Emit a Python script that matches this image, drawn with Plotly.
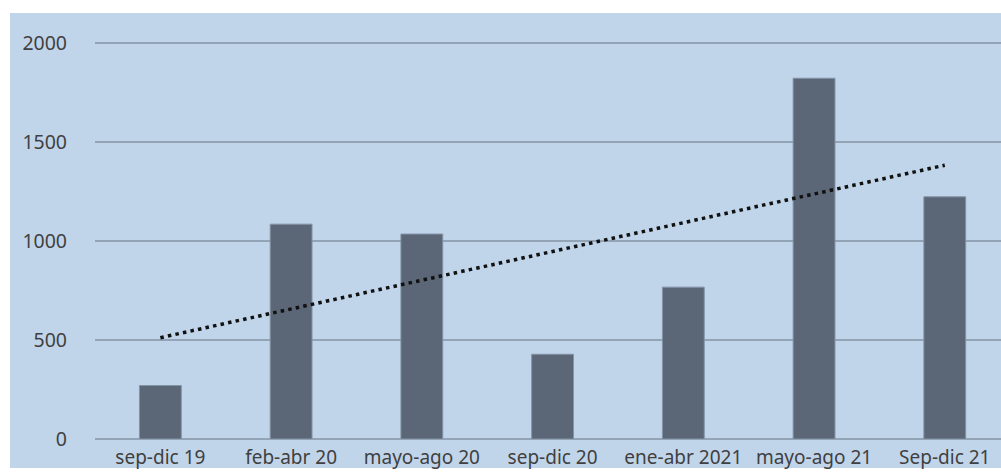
import numpy as np
import plotly.graph_objects as go

# Cuatrimestres and counts per period
periodos = ["sep-dic 19", "feb-abr 20", "mayo-ago 20", "sep-dic 20",
            "ene-abr 2021", "mayo-ago 21", "Sep-dic 21"]
valores = [270, 1085, 1035, 428, 767, 1822, 1223]
y_ticks = [0, 500, 1000, 1500, 2000]

# Linear trend fitted over the period index
idx = np.arange(1, len(valores) + 1)
pend, inter = np.polyfit(idx, valores, 1)
tendencia = pend * idx + inter

BG = "#C0D5EA"
BAR = "#5B6676"
GRID = "#93A4B7"
TXT = "#404040"
FONT = "Noto Sans"

W, H = 1001, 475
L, R, T, B = 95, 0, 41, 36
Y_MAX = 2010  # a little headroom so the 2000 gridline is drawn

fig = go.Figure()
fig.add_trace(go.Bar(
    x=periodos, y=valores, width=0.32,
    marker=dict(color=BAR, line=dict(color="#8493A6", width=1)),
    showlegend=False, hoverinfo="x+y",
))
fig.add_trace(go.Scatter(
    x=periodos, y=tendencia, mode="lines",
    line=dict(color="#111111", width=3.5, dash="3.5px,4.2px"),
    showlegend=False, hoverinfo="skip",
))

pw = W - L - R
ph = H - T - B
fig.add_shape(
    type="rect", xref="paper", yref="paper", layer="below",
    x0=(10 - L) / pw, x1=1.0,
    y0=-(468 - (H - B)) / ph, y1=((H - B) - 13) / ph,
    fillcolor=BG, line=dict(width=0),
)

fig.update_layout(
    width=W, height=H,
    margin=dict(l=L, r=R, t=T, b=B, pad=0),
    paper_bgcolor="white",
    plot_bgcolor="rgba(0,0,0,0)",
    font=dict(family=FONT, size=19, color=TXT),
    bargap=0.68,
    xaxis=dict(
        range=[-0.5, 6.43], showgrid=False, zeroline=False,
        showline=False, ticks="", tickfont=dict(size=19, color=TXT),
        ticklabelstandoff=5,
    ),
    yaxis=dict(
        range=[0, Y_MAX], tickvals=y_ticks, showgrid=True,
        gridcolor=GRID, gridwidth=1.5, zeroline=True,
        zerolinecolor=GRID, zerolinewidth=2, showline=False, ticks="",
        tickfont=dict(size=19.5, color=TXT), ticklabelstandoff=27,
    ),
)

fig.write_html("out.html")
